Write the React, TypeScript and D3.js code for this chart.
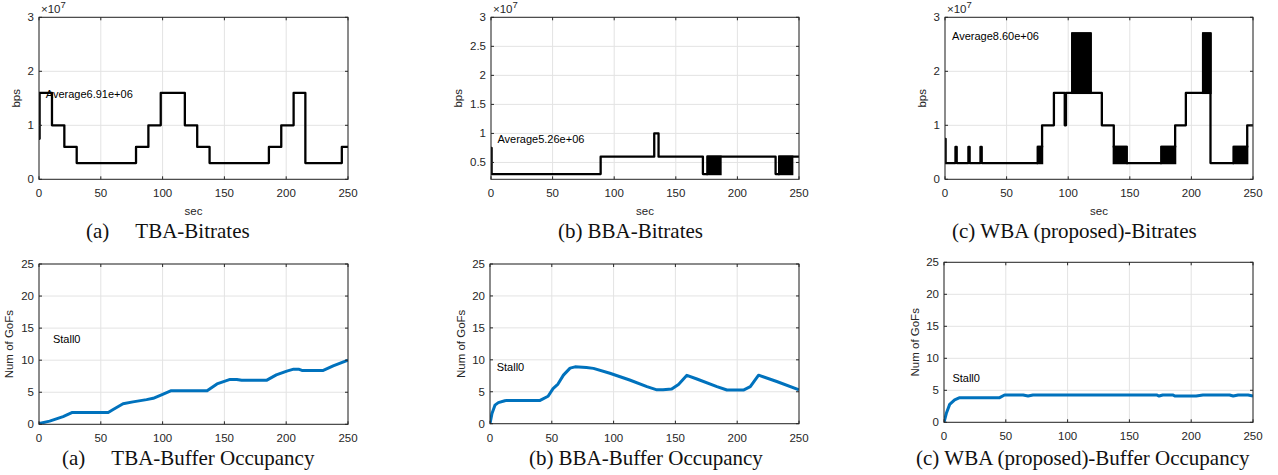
import React from 'react';
import * as d3 from 'd3';

// x ticks (sec) shared by all panels
const secTicks = [0, 50, 100, 150, 200, 250];

// bitrates, in units of 1e7 bps, step-after (time in sec, value)
const tbaTime = [0, 0.5, 10.5, 20.5, 30.5, 78.5, 88.5, 98.5, 118, 128, 138, 186, 196, 206, 215.5, 245, 250];
const tbaRate = [0.75, 1.6, 1.0, 0.6, 0.3, 0.6, 1.0, 1.6, 1.0, 0.6, 0.3, 0.6, 1.0, 1.6, 0.3, 0.6, 0.6];

const bbaTime = [0, 0.5, 89, 132.5, 136, 172, 175.8, 231, 234, 250];
const bbaRate = [0.75, 0.3, 0.6, 1.0, 0.6, 0.3, 0.6, 0.3, 0.6, 0.6];

const wbaTime = [0, 0.5, 8.5, 9.5, 19, 20, 28.8, 29.8, 75.4, 78.8, 88.4, 97.2, 98.2, 103.3, 118.2, 127.3, 137, 147.4, 175.7, 186.8, 195.5, 209.5, 215.5, 234.4, 245.3, 250];
const wbaRate = [0.75, 0.3, 0.6, 0.3, 0.6, 0.3, 0.6, 0.3, 0.6, 1.0, 1.6, 1.0, 1.6, 2.7, 1.6, 1.0, 0.6, 0.3, 0.6, 1.0, 1.6, 2.7, 0.3, 0.6, 1.0, 1.0];

// fast switching intervals drawn as solid blocks: [from, to, low, high]
const bbaSwitch = [[175.8, 186.3, 0.3, 0.6], [234, 244.5, 0.3, 0.6]];
const wbaSwitch = [
  [75.4, 78.8, 0.3, 0.6], [103.3, 118.2, 1.6, 2.7], [137, 147.4, 0.3, 0.6],
  [175.7, 186.8, 0.3, 0.6], [209.5, 215.5, 1.6, 2.7], [234.4, 245.3, 0.3, 0.6],
];

// buffer occupancy (Num of GoFs)
const tbaBufTime = [0, 8.6, 19.5, 27, 29, 56, 60, 68, 76, 87, 92.4, 100.5, 107, 136, 144, 154.6, 160, 164, 184, 192, 200.5, 206, 210, 212.7, 230, 238, 250];
const tbaBuf = [0.1, 0.5, 1.2, 1.85, 1.85, 1.85, 2.3, 3.2, 3.5, 3.85, 4.05, 4.7, 5.25, 5.25, 6.3, 7.0, 7.0, 6.86, 6.86, 7.7, 8.3, 8.6, 8.6, 8.4, 8.4, 9.1, 10.0];

const bbaBufTime = [0, 1.6, 4, 6.75, 12, 13.5, 40.5, 47, 51, 55, 59.4, 64.8, 68.8, 78, 83.7, 97, 113, 127, 135, 140, 147, 152.5, 159.3, 167.4, 183.6, 191.7, 205, 210.6, 217.3, 232, 250];
const bbaBuf = [0, 1.6, 2.9, 3.3, 3.6, 3.65, 3.65, 4.3, 5.5, 6.2, 7.6, 8.7, 8.9, 8.8, 8.66, 7.9, 6.84, 5.8, 5.3, 5.3, 5.43, 6.15, 7.57, 7.0, 5.8, 5.27, 5.27, 5.8, 7.6, 6.6, 5.3];

const wbaBufTime = [0, 1.9, 4.6, 8.6, 12.7, 45, 49, 64, 68, 72, 172, 174, 177, 185, 187, 204, 209.5, 231, 234, 238, 246, 250];
const wbaBuf = [0, 1.4, 2.8, 3.5, 3.85, 3.85, 4.27, 4.27, 4.1, 4.27, 4.27, 4.1, 4.27, 4.27, 4.1, 4.1, 4.27, 4.27, 4.1, 4.27, 4.27, 4.1];

const SANS = 'Liberation Sans, Arial, Helvetica, sans-serif';
const SERIF = 'Liberation Serif, Times New Roman, serif';
const AX = '#262626';
const GRID = '#e3e3e3';

type PanelProps = {
  box: number[]; // x0, x1, y0, y1
  yDomain: number[];
  yTicks: number[];
  yLabel: string;
  labelOff: number;
  time: number[];
  vals: number[];
  step?: boolean;
  bands?: number[][];
  note: string;
  noteAt: number[];
  exp?: boolean;
  xLabel?: boolean;
  color: string;
  width: number;
};

const Panel = ({ box, yDomain, yTicks, yLabel, labelOff, time, vals, step, bands, note, noteAt, exp, xLabel, color, width }: PanelProps) => {
  const [x0, x1, y0, y1] = box;
  const x = d3.scaleLinear().domain([0, 250]).range([x0, x1]);
  const y = d3.scaleLinear().domain(yDomain).range([y1, y0]);
  const pts = time.map((t, i) => [t, vals[i]] as [number, number]);
  const line = d3.line<[number, number]>()
    .x(d => x(d[0]))
    .y(d => y(d[1]))
    .curve(step ? d3.curveStepAfter : d3.curveLinear);
  const tl = 3;
  const clipId = 'c' + Math.round(x0) + '_' + Math.round(y0);

  return (
    <g>
      {secTicks.map(t => (
        <line key={'gx' + t} x1={x(t)} x2={x(t)} y1={y0} y2={y1} stroke={GRID} strokeWidth={1} />
      ))}
      {yTicks.map(v => (
        <line key={'gy' + v} x1={x0} x2={x1} y1={y(v)} y2={y(v)} stroke={GRID} strokeWidth={1} />
      ))}
      <defs>
        <clipPath id={clipId}>
          <rect x={x0} y={y0} width={x1 - x0} height={y1 - y0} />
        </clipPath>
      </defs>
      <g clipPath={`url(#${clipId})`}>
        {(bands || []).map((b, i) => (
          <rect key={i} x={x(b[0])} y={y(b[3])} width={x(b[1]) - x(b[0])} height={y(b[2]) - y(b[3])}
            fill={color} stroke={color} strokeWidth={width} />
        ))}
        <path d={line(pts) || ''} fill="none" stroke={color} strokeWidth={width} strokeLinejoin="round" />
      </g>
      <rect x={x0} y={y0} width={x1 - x0} height={y1 - y0} fill="none" stroke={AX} strokeWidth={1} />
      {secTicks.map(t => (
        <g key={'tx' + t}>
          <line x1={x(t)} x2={x(t)} y1={y1} y2={y1 - tl} stroke={AX} />
          <line x1={x(t)} x2={x(t)} y1={y0} y2={y0 + tl} stroke={AX} />
          <text x={x(t)} y={y1 + 18} textAnchor="middle" fontSize={11.5} fill={AX} fontFamily={SANS}>{t}</text>
        </g>
      ))}
      {yTicks.map(v => (
        <g key={'ty' + v}>
          <line x1={x0} x2={x0 + tl} y1={y(v)} y2={y(v)} stroke={AX} />
          <line x1={x1} x2={x1 - tl} y1={y(v)} y2={y(v)} stroke={AX} />
          <text x={x0 - 5} y={y(v) + 4} textAnchor="end" fontSize={11.5} fill={AX} fontFamily={SANS}>{v}</text>
        </g>
      ))}
      {exp && (
        <text x={x0 + 2} y={y0 - 4} fontSize={11.5} fill={AX} fontFamily={SANS}>
          ×10<tspan fontSize={9.5} dy={-5}>7</tspan>
        </text>
      )}
      <text transform={`translate(${x0 - labelOff},${(y0 + y1) / 2}) rotate(-90)`}
        textAnchor="middle" fontSize={11.5} fill={AX} fontFamily={SANS}>{yLabel}</text>
      {xLabel && (
        <text x={(x0 + x1) / 2} y={y1 + 36} textAnchor="middle" fontSize={11.5} fill={AX} fontFamily={SANS}>sec</text>
      )}
      <text x={x(noteAt[0])} y={y(noteAt[1])} dy="0.35em" fontSize={11} fill="#000" fontFamily={SANS}>{note}</text>
    </g>
  );
};

const Caption = ({ x, y, tag, label, gap }: { x: number; y: number; tag: string; label: string; gap: number }) => (
  <text x={x} y={y} fontSize={21} fill="#111" fontFamily={SERIF}>
    {tag}<tspan dx={gap}>{label}</tspan>
  </text>
);

const App = () => {
  const rateTicks = [0, 1, 2, 3];
  const bbaTicks = [0.5, 1, 1.5, 2, 2.5, 3];
  const bufTicks = [0, 5, 10, 15, 20, 25];
  const black = '#000';
  const blue = '#0072BD';
  return (
    <svg width={1278} height={475} style={{ position: 'absolute', left: 0, top: 0, background: '#fff' }}>
      <Panel box={[39, 348, 17.3, 179.3]} yDomain={[0, 3]} yTicks={rateTicks} yLabel="bps" labelOff={19}
        time={tbaTime} vals={tbaRate} step note="Average6.91e+06" noteAt={[5.5, 1.57]} exp xLabel color={black} width={2.3} />
      <Panel box={[491, 799, 17.3, 179.3]} yDomain={[0.21, 3]} yTicks={bbaTicks} yLabel="bps" labelOff={29}
        time={bbaTime} vals={bbaRate} step bands={bbaSwitch} note="Average5.26e+06" noteAt={[5.2, 0.9]} exp xLabel color={black} width={2.3} />
      <Panel box={[945, 1253, 17.3, 179.3]} yDomain={[0, 3]} yTicks={rateTicks} yLabel="bps" labelOff={19}
        time={wbaTime} vals={wbaRate} step bands={wbaSwitch} note="Average8.60e+06" noteAt={[5.7, 2.66]} exp xLabel color={black} width={2.3} />

      <Panel box={[39, 348, 264, 424.3]} yDomain={[0, 25]} yTicks={bufTicks} yLabel="Num of GoFs" labelOff={26}
        time={tbaBufTime} vals={tbaBuf} note="Stall0" noteAt={[11.3, 13.3]} color={blue} width={3} />
      <Panel box={[490, 799, 264, 423.7]} yDomain={[0, 25]} yTicks={bufTicks} yLabel="Num of GoFs" labelOff={25}
        time={bbaBufTime} vals={bbaBuf} note="Stall0" noteAt={[5.4, 8.9]} color={blue} width={3} />
      <Panel box={[944, 1253, 262.3, 422.3]} yDomain={[0, 25]} yTicks={bufTicks} yLabel="Num of GoFs" labelOff={25}
        time={wbaBufTime} vals={wbaBuf} note="Stall0" noteAt={[6.8, 6.9]} color={blue} width={3} />

      <Caption x={86} y={238} tag="(a)" label="TBA-Bitrates" gap={26} />
      <Caption x={558} y={238} tag="(b)" label="BBA-Bitrates" gap={5} />
      <Caption x={952} y={238} tag="(c)" label="WBA (proposed)-Bitrates" gap={5} />
      <Caption x={62} y={465} tag="(a)" label="TBA-Buffer Occupancy" gap={26} />
      <Caption x={529} y={465} tag="(b)" label="BBA-Buffer Occupancy" gap={5} />
      <Caption x={916} y={465} tag="(c)" label="WBA (proposed)-Buffer Occupancy" gap={5} />
    </svg>
  );
};

export default App;
